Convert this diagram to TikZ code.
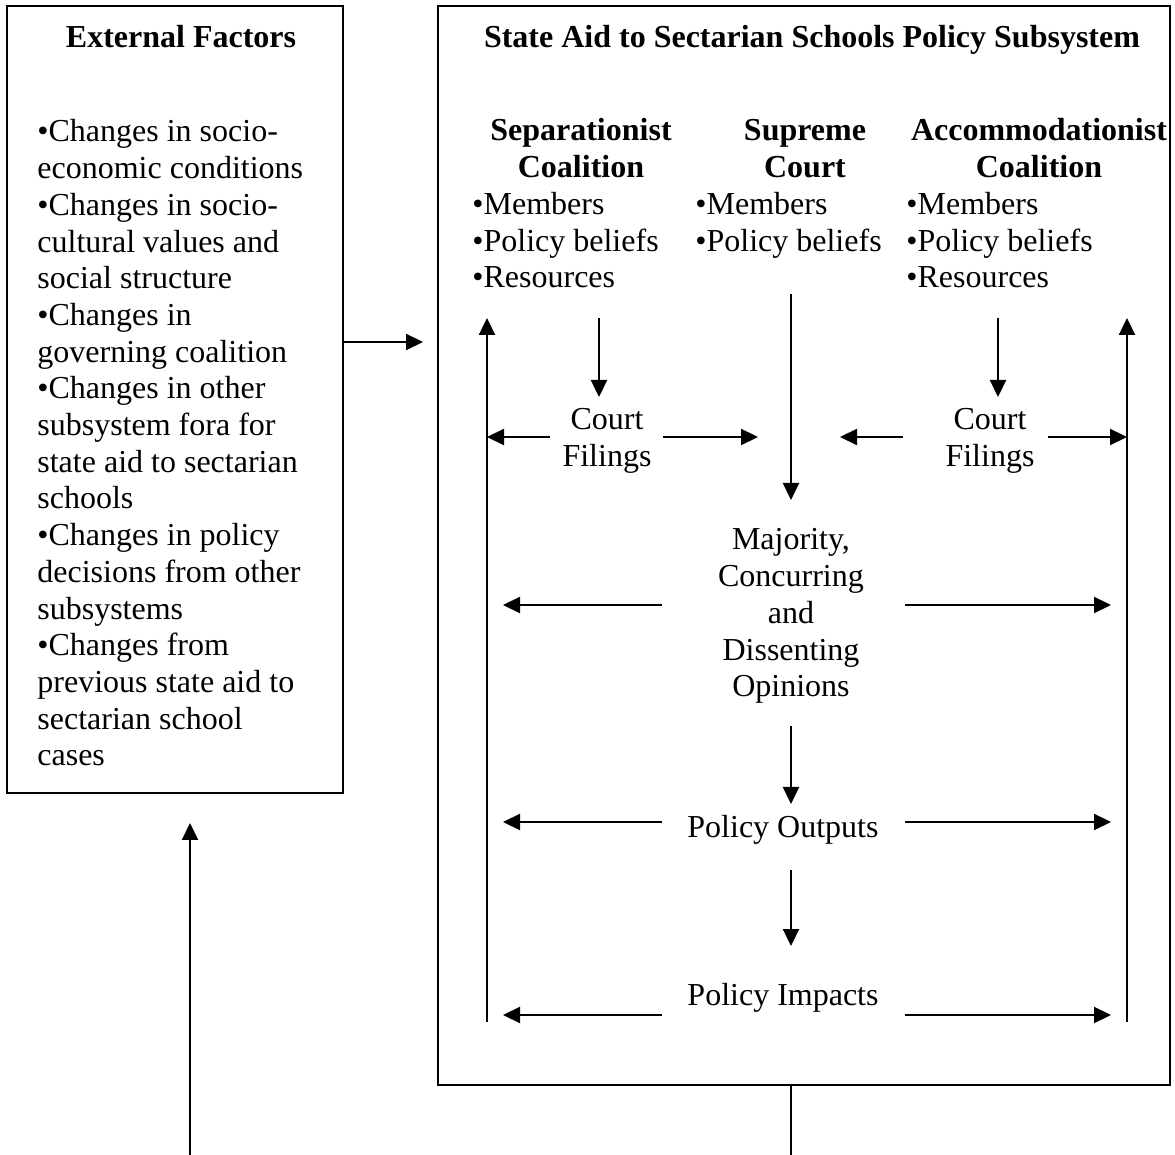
\documentclass[tikz,border=0pt]{standalone}
\usepackage{fontspec}
\setmainfont{Liberation Serif}
\usetikzlibrary{arrows.meta,calc}
\tikzset{
  txt/.style={inner sep=0pt, font=\fontsize{16}{18.35}\selectfont},
  bftxt/.style={inner sep=0pt, font=\fontsize{16}{18.35}\selectfont\bfseries},
  arr/.style={-{Triangle[length=8.5pt,width=8pt]}, line width=1.1pt},
  ln/.style={line width=1.1pt},
  frame/.style={draw, line width=1.3pt, inner sep=0pt}
}
\newcommand{\centtxt}[2]{\parbox[t]{#1pt}{\centering\fontsize{16}{18.35}\selectfont #2}}
\newcommand{\lefttxt}[2]{\parbox[t]{#1pt}{\raggedright\fontsize{16}{18.35}\selectfont #2}}
\begin{document}
\begin{tikzpicture}[x=0.5pt,y=-0.5pt]
\useasboundingbox (0,0) rectangle (1175,1155);
% boxes
\node[frame, minimum width=168pt, minimum height=393.5pt] (extbox) at (175,399.5) {};
\node[frame, minimum width=366pt, minimum height=539.5pt] (subbox) at (804,545.5) {};
% titles
\node[bftxt, anchor=base] (exttitle) at (181,48) {External Factors};
\node[bftxt, anchor=base] (subtitle) at (812,48) {State Aid to Sectarian Schools Policy Subsystem};
% external list
\node[txt, anchor=base west] (extlist) at (37,142) {\lefttxt{165}{%
•Changes in socio-\\
economic conditions\\
•Changes in socio-\\
cultural values and\\
social structure\\
•Changes in\\
governing coalition\\
•Changes in other\\
subsystem fora for\\
state aid to sectarian\\
schools\\
•Changes in policy\\
decisions from other\\
subsystems\\
•Changes from\\
previous state aid to\\
sectarian school\\
cases}};
% coalition headings
\node[bftxt, anchor=base] (sephead) at (581,141) {\centtxt{110}{\bfseries Separationist\\Coalition}};
\node[bftxt, anchor=base] (schead) at (805,141) {\centtxt{90}{\bfseries Supreme\\Court}};
\node[bftxt, anchor=base] (acchead) at (1039,141) {\centtxt{140}{\bfseries Accommodationist\\Coalition}};
% coalition lists
\node[txt, anchor=base west] (seplist) at (472,214.4) {\lefttxt{110}{•Members\\•Policy beliefs\\•Resources}};
\node[txt, anchor=base west] (sclist) at (695,214.4) {\lefttxt{110}{•Members\\•Policy beliefs}};
\node[txt, anchor=base west] (acclist) at (906,214.4) {\lefttxt{110}{•Members\\•Policy beliefs\\•Resources}};
% middle texts
\node[txt, anchor=base] (cf1) at (607,430) {\centtxt{60}{Court\\Filings}};
\node[txt, anchor=base] (cf2) at (990,430) {\centtxt{60}{Court\\Filings}};
\node[txt, anchor=base] (maj) at (791,550) {\centtxt{90}{Majority,\\Concurring\\and\\Dissenting\\Opinions}};
\node[txt, anchor=base] (out) at (783,838) {Policy Outputs};
\node[txt, anchor=base] (imp) at (783,1005) {Policy Impacts};
% coordinates
\coordinate (ea) at (423,342);
\coordinate (lvtop) at (487,318);
\coordinate (lvbot) at (487,1022);
\coordinate (rvtop) at (1127,318);
\coordinate (rvbot) at (1127,1022);
\coordinate (sd1) at (599,318);
\coordinate (sd2) at (599,397);
\coordinate (ad1) at (998,318);
\coordinate (ad2) at (998,397);
\coordinate (sc1) at (791,294);
\coordinate (sc2) at (791,500);
\coordinate (cfl1) at (550,437);
\coordinate (cfl2) at (663,437);
\coordinate (cfl3) at (758,437);
\coordinate (cfr1) at (903,437);
\coordinate (cfr2) at (840,437);
\coordinate (cfr3) at (1048,437);
\coordinate (m1) at (791,726);
\coordinate (m2) at (791,804);
\coordinate (o1) at (791,870);
\coordinate (o2) at (791,946);
\coordinate (lb) at (190,1155);
\coordinate (lt) at (190,823);
\coordinate (bb) at (791,1155);
\foreach \nm/\yy in {maj/605,out/822,imp/1015}{
  \coordinate (\nm L1) at (662,\yy);
  \coordinate (\nm L2) at (503,\yy);
  \coordinate (\nm R1) at (905,\yy);
  \coordinate (\nm R2) at (1111,\yy);
}
% connectors
\draw[arr] (extbox.east |- ea) -- (ea);
\draw[arr] (lvbot) -- (lvtop);
\draw[arr] (rvbot) -- (rvtop);
\draw[arr] (sd1) -- (sd2);
\draw[arr] (ad1) -- (ad2);
\draw[arr] (sc1) -- (sc2);
\draw[arr] (cfl1) -- (lvtop |- cfl1);
\draw[arr] (cfl2) -- (cfl3);
\draw[arr] (cfr1) -- (cfr2);
\draw[arr] (cfr3) -- (rvtop |- cfr3);
\foreach \nm in {maj,out,imp}{
  \draw[arr] (\nm L1) -- (\nm L2);
  \draw[arr] (\nm R1) -- (\nm R2);
}
\draw[arr] (m1) -- (m2);
\draw[arr] (o1) -- (o2);
\draw[ln] (subbox.south -| bb) -- (bb);
\draw[arr] (lb) -- (lt);
\end{tikzpicture}
\end{document}
